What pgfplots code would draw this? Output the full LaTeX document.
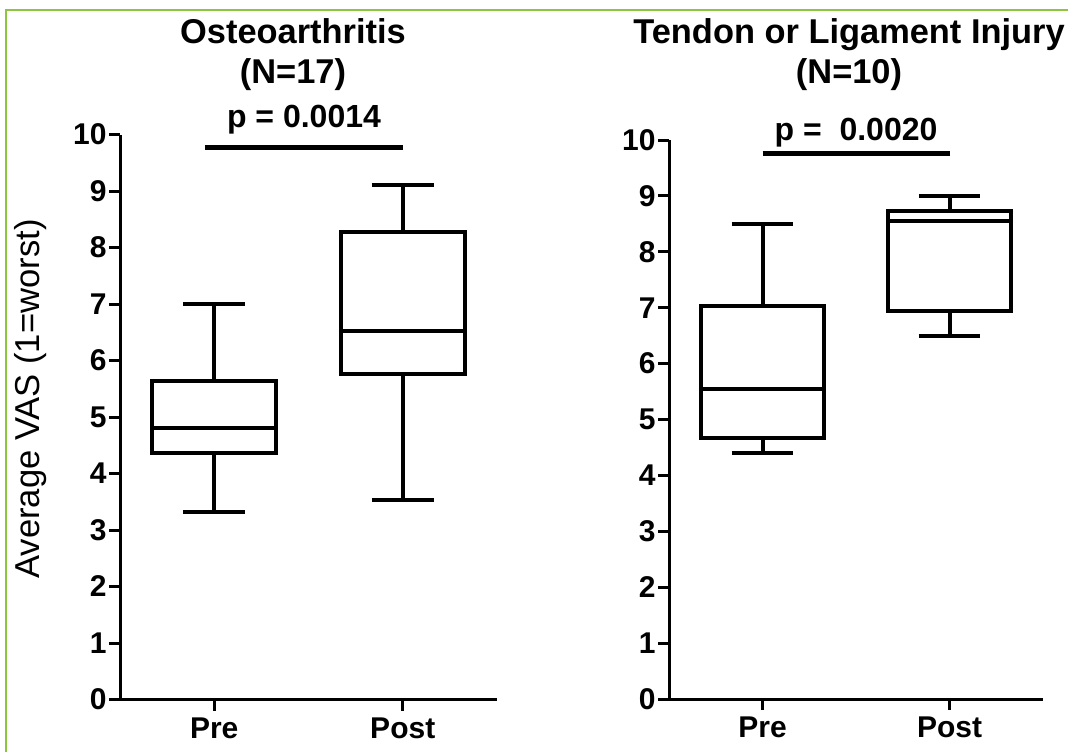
\documentclass[border=0pt]{standalone}
\usepackage{fontspec}
\setmainfont{Liberation Sans}
\usepackage{pgfplots}
\pgfplotsset{compat=1.18}
\usepgfplotslibrary{statistics}
\definecolor{frame}{RGB}{140,198,63}
\pgfplotsset{panel/.style={
  scale only axis, axis x line=bottom, axis y line=left,
  axis line style={-, line width=1.5pt, black},
  xmin=0.5, xmax=2.5, ymin=0, ymax=10,
  xtick={1,2}, xticklabels={Pre,Post},
  ytick={0,1,2,3,4,5,6,7,8,9,10}, yticklabels={0,1,2,3,4,5,6,7,8,9,10},
  tick align=outside, major tick length=5.5pt,
  every tick/.style={black, line width=1.5pt},
  tick label style={font=\fontsize{15pt}{18pt}\selectfont\bfseries},
  yticklabel style={inner sep=1pt},
  boxplot/draw direction=y,
  clip=false,
}}
\begin{document}
\begin{tikzpicture}
\path[use as bounding box] (0pt,0pt) rectangle (534pt,376pt);
\draw[frame, line width=1pt] (3pt,0pt) -- (3pt,371pt) -- (534pt,371pt);
% left panel
\begin{axis}[panel, at={(60pt,26.25pt)}, anchor=south west, width=188.5pt, height=282.5pt]
\addplot[black, line width=2pt, boxplot prepared={draw position=1, lower whisker=3.31, lower quartile=4.37, median=4.81, upper quartile=5.63, upper whisker=7.0, box extend=0.66, whisker extend=0.33}] coordinates {};
\addplot[black, line width=2pt, boxplot prepared={draw position=2, lower whisker=3.53, lower quartile=5.77, median=6.53, upper quartile=8.27, upper whisker=9.1, box extend=0.66, whisker extend=0.33}] coordinates {};
\addplot[black, line width=2.4pt] coordinates {(0.95,9.77) (2.0,9.77)};
\end{axis}
% right panel
\begin{axis}[panel, at={(334.5pt,26.5pt)}, anchor=south west, width=187pt, height=279.5pt]
\addplot[black, line width=2pt, boxplot prepared={draw position=1, lower whisker=4.40, lower quartile=4.67, median=5.54, upper quartile=7.03, upper whisker=8.49, box extend=0.66, whisker extend=0.33}] coordinates {};
\addplot[black, line width=2pt, boxplot prepared={draw position=2, lower whisker=6.49, lower quartile=6.94, median=8.55, upper quartile=8.73, upper whisker=9.0, box extend=0.66, whisker extend=0.33}] coordinates {};
\addplot[black, line width=2.4pt] coordinates {(1.0,9.76) (2.0,9.76)};
\end{axis}
% titles
\node[anchor=base, font=\fontsize{17.2pt}{20pt}\selectfont\bfseries, inner sep=0pt] at (146.5pt,354.5pt) {Osteoarthritis};
\node[anchor=base, font=\fontsize{17.2pt}{20pt}\selectfont\bfseries, inner sep=0pt] at (146.5pt,334.5pt) {(N=17)};
\node[anchor=base, font=\fontsize{16pt}{20pt}\selectfont\bfseries, inner sep=0pt] at (152pt,312.5pt) {p = 0.0014};
\node[anchor=base, font=\fontsize{17.2pt}{20pt}\selectfont\bfseries, inner sep=0pt] at (424.5pt,354.5pt) {Tendon or Ligament Injury};
\node[anchor=base, font=\fontsize{17.2pt}{20pt}\selectfont\bfseries, inner sep=0pt] at (424.5pt,334.5pt) {(N=10)};
\node[anchor=base, font=\fontsize{16pt}{20pt}\selectfont\bfseries, inner sep=0pt] at (428pt,306pt) {p =\ \ 0.0020};
% y label
\node[anchor=base, rotate=90, font=\fontsize{17.3pt}{20pt}\selectfont, inner sep=0pt] at (20pt,176.5pt) {Average VAS (1=worst)};
\end{tikzpicture}
\end{document}
